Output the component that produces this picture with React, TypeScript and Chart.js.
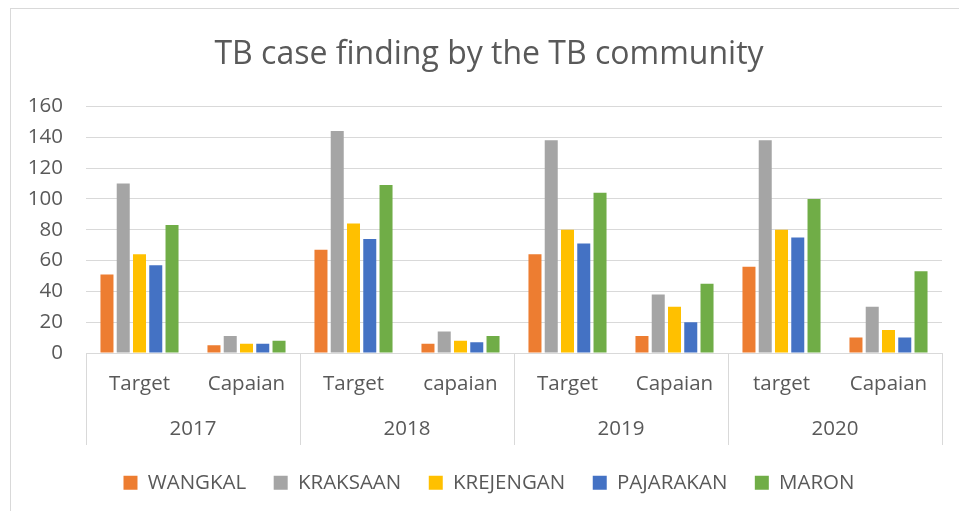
import React, { useEffect, useRef } from "react";
import { Chart, registerables } from "chart.js";

Chart.register(...registerables);

const years = ["2017", "2018", "2019", "2020"];
const subLabels = ["Target", "Capaian", "Target", "capaian", "Target", "Capaian", "target", "Capaian"];
const yTicks = [0, 20, 40, 60, 80, 100, 120, 140, 160];

const wangkal = [51, 5, 67, 6, 64, 11, 56, 10];
const kraksaan = [110, 11, 144, 14, 138, 38, 138, 30];
const krejengan = [64, 6, 84, 8, 80, 30, 80, 15];
const pajarakan = [57, 6, 74, 7, 71, 20, 75, 10];
const maron = [83, 8, 109, 11, 104, 45, 100, 53];

const seriesNames = ["WANGKAL", "KRAKSAAN", "KREJENGAN", "PAJARAKAN", "MARON"];
const seriesValues = [wangkal, kraksaan, krejengan, pajarakan, maron];
const seriesColors = ["#ED7D31", "#A5A5A5", "#FFC000", "#4472C4", "#70AD47"];

const FONT = "'Open Sans', sans-serif";
const TEXT = "#595959";
const LINE = "#D9D9D9";

const framePlugin = {
  id: "frame",
  beforeDraw(chart: any) {
    const ctx = chart.ctx;
    ctx.save();
    ctx.fillStyle = "#ffffff";
    ctx.fillRect(0, 0, chart.width, chart.height);
    ctx.strokeStyle = LINE;
    ctx.lineWidth = 1;
    ctx.strokeRect(10.5, 8.5, chart.width + 40, chart.height + 40);
    ctx.restore();
  },
  afterDraw(chart: any) {
    const x = chart.scales.x;
    const x2 = chart.scales.x2;
    const ctx = chart.ctx;
    ctx.save();
    ctx.strokeStyle = LINE;
    ctx.lineWidth = 1;
    const n = subLabels.length;
    const per = n / years.length;
    for (let i = 0; i <= years.length; i++) {
      let px: number;
      if (i === 0) px = x.left;
      else if (i === years.length) px = x.right;
      else px = (x.getPixelForValue(i * per - 1) + x.getPixelForValue(i * per)) / 2;
      px = Math.round(px) + 0.5;
      ctx.beginPath();
      ctx.moveTo(px, chart.chartArea.bottom);
      ctx.lineTo(px, x2.bottom);
      ctx.stroke();
    }
    ctx.restore();
  },
};

export default function App() {
  const ref = useRef<HTMLCanvasElement>(null);
  useEffect(() => {
    const chart = new Chart(ref.current as HTMLCanvasElement, {
      type: "bar",
      data: {
        labels: subLabels,
        datasets: seriesNames.map((name, i) => ({
          label: name,
          data: seriesValues[i],
          backgroundColor: seriesColors[i],
          borderWidth: 0,
          categoryPercentage: 0.76,
          barPercentage: 0.8,
          xAxisID: "x",
          yAxisID: "y",
        })),
      },
      options: {
        animation: false,
        responsive: false,
        layout: { padding: { left: 19, right: 0, top: 0, bottom: 8 } },
        plugins: {
          title: {
            display: true,
            text: "TB case finding by the TB community",
            color: TEXT,
            font: { family: FONT, size: 32, weight: "normal" },
            padding: { top: 36, bottom: 32 },
          },
          legend: {
            position: "bottom",
            labels: {
              color: TEXT,
              font: { family: FONT, size: 20.5 },
              boxWidth: 14,
              boxHeight: 14,
              padding: 27.5,
            },
          },
          tooltip: { enabled: false },
        },
        scales: {
          x: {
            type: "category",
            position: "bottom",
            weight: 0,
            grid: { display: false, drawTicks: false },
            border: { display: true, color: LINE, width: 1 },
            ticks: { color: TEXT, font: { family: FONT, size: 20.5 }, padding: 19, maxRotation: 0, autoSkip: false },
            afterFit: (s: any) => { s.height = 46; },
          },
          x2: {
            type: "category",
            labels: years,
            position: "bottom",
            weight: 1,
            offset: true,
            grid: { display: false, drawTicks: false },
            border: { display: false },
            ticks: { color: TEXT, font: { family: FONT, size: 20.5 }, padding: 17.5, maxRotation: 0, autoSkip: false },
            afterFit: (s: any) => { s.height = 46; },
          },
          y: {
            position: "left",
            min: yTicks[0],
            max: yTicks[yTicks.length - 1],
            ticks: { stepSize: yTicks[1] - yTicks[0], color: TEXT, font: { family: FONT, size: 20.5 }, padding: 23 },
            grid: { color: LINE, lineWidth: 1, drawTicks: false },
            border: { display: false },
            afterFit: (s: any) => { s.width = 67; },
          },
          ySpacer: {
            position: "right",
            display: true,
            min: yTicks[0],
            max: yTicks[yTicks.length - 1],
            ticks: { display: false },
            grid: { display: false, drawTicks: false },
            border: { display: false },
            afterFit: (s: any) => { s.width = 17; },
          },
        },
      },
      plugins: [framePlugin],
    } as any);
    return () => chart.destroy();
  }, []);
  return (
    <div style={{ position: "fixed", left: 0, top: 0, width: 959, height: 511, background: "#fff" }}>
      <canvas ref={ref} width={959} height={511} style={{ display: "block" }} />
    </div>
  );
}
